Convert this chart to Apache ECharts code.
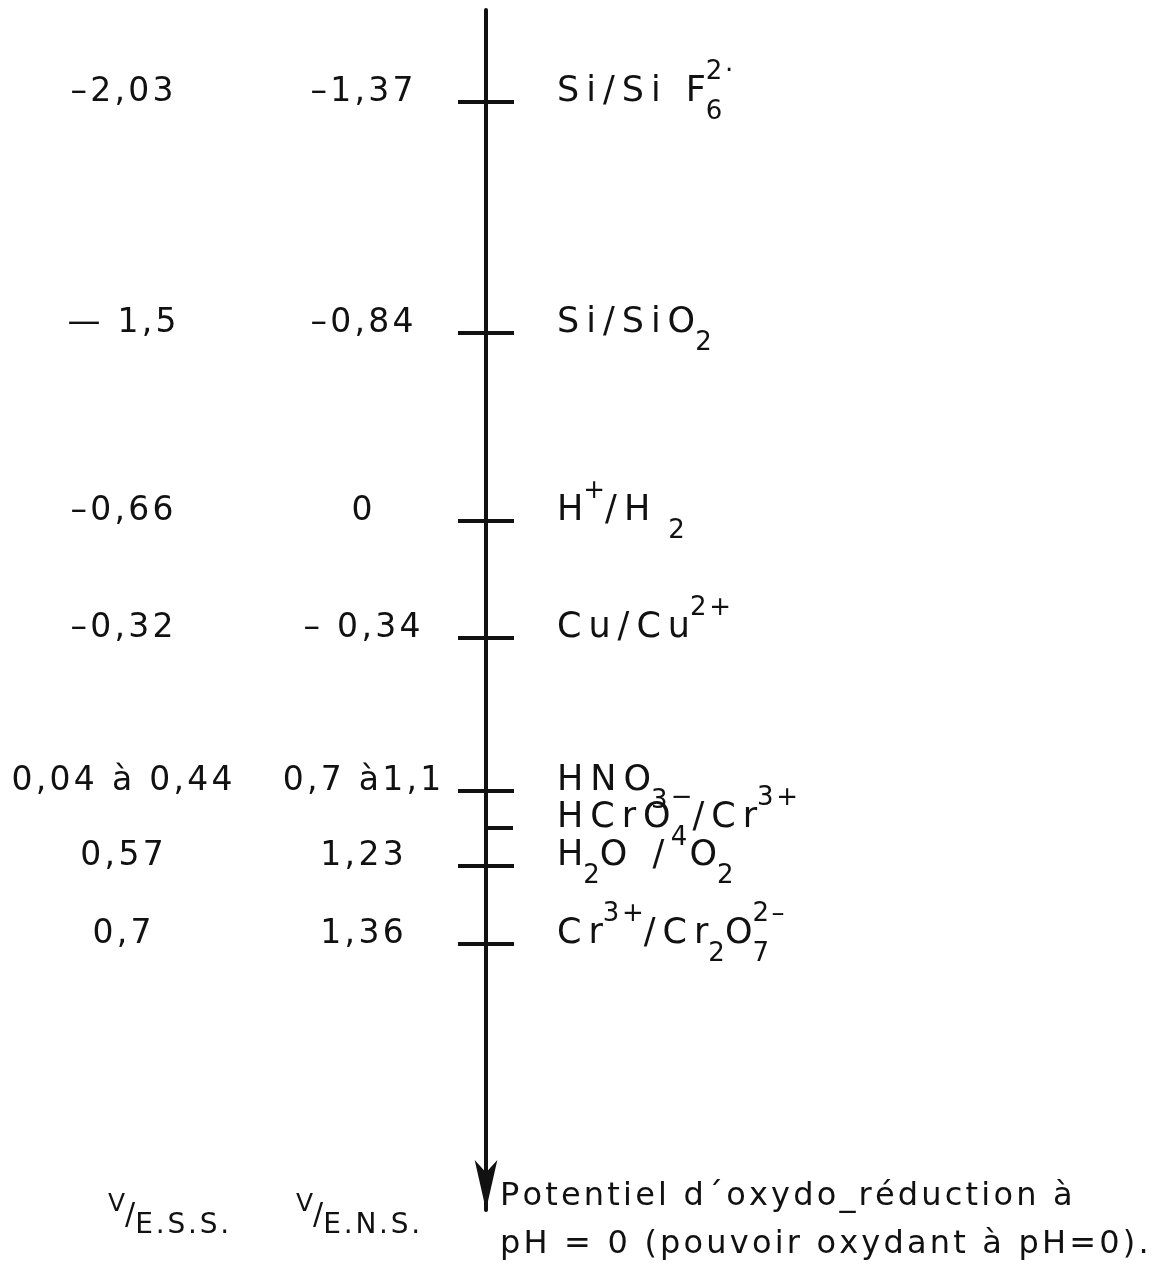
<!DOCTYPE html>
<html>
<head>
<meta charset="utf-8">
<script src="https://cdn.jsdelivr.net/npm/echarts@6.0.0/dist/echarts.min.js"></script>
<style>
  html, body { margin: 0; padding: 0; background: #ffffff; }
  #chart { width: 1169px; height: 1265px; }
</style>
</head>
<body>
<div id="chart"></div>
<script>
// ---- data ----
// Redox couples, from top to bottom along the arrow
const couples = ['Si/SiF6 2-', 'Si/SiO2', 'H+/H2', 'Cu/Cu2+', 'HNO3', 'HCrO4-/Cr3+', 'H2O/O2', 'Cr3+/Cr2O7 2-'];
// rich-text pieces of each couple label: [style, text]
const coupleParts = [
  [['m', 'Si/Si F'], ['sb0', '6'], ['sp', '2·']],
  [['m', 'Si/SiO'], ['sb', '2']],
  [['m', 'H'], ['sp', '+'], ['m', '/H '], ['sb', '2']],
  [['m', 'Cu/Cu'], ['sp', '2+']],
  [['m', 'HNO'], ['sb', '3']],
  [['m', 'HCrO'], ['sb0', '4'], ['sp', '−'], ['m', '/Cr'], ['sp', '3+']],
  [['m', 'H'], ['sb', '2'], ['m', 'O / O'], ['sb', '2']],
  [['m', 'Cr'], ['sp', '3+'], ['m', '/Cr'], ['sb', '2'], ['m', 'O'], ['sb0', '7'], ['sp', '2–']]
];
// potentials in V vs E.S.S. (left column) and vs E.N.S. (middle column), as written
const potentialESS = ['–2,03', '— 1,5', '–0,66', '–0,32', '0,04 à 0,44', null, '0,57', '0,7'];
const potentialENS = ['–1,37', '–0,84', '0', '– 0,34', '0,7 à1,1', null, '1,23', '1,36'];
// position of each couple along the arrow (the figure is not drawn to scale)
const ordinate = [92, 323, 511, 628, 781, 818, 856, 934];
// tick kind: full cross tick or short tick on the right only
const tickKind = ['full', 'full', 'full', 'full', 'full', 'half', 'full', 'full'];

// ---- layout constants ----
const AXIS_X = 486;
const COL_ESS_X = 122;
const COL_ENS_X = 362;
const COUPLE_X = 557;
const INK = '#111111';
const FONT = 'DejaVu Sans';

const spaced = (s, gap) => s.split('').join(gap);
const THIN = '\u2009';
const HAIR = '\u200A';

const richStyles = {
  m:   { fontSize: 35, lineHeight: 66, verticalAlign: 'middle', color: INK, fontFamily: FONT },
  sb:  { fontSize: 26, lineHeight: 26, verticalAlign: 'bottom', color: INK, fontFamily: FONT },
  sb0: { fontSize: 26, lineHeight: 26, verticalAlign: 'bottom', color: INK, fontFamily: FONT, width: 0 },
  sp:  { fontSize: 26, lineHeight: 26, verticalAlign: 'top', color: INK, fontFamily: FONT }
};

const chart = echarts.init(document.getElementById('chart'), null, { renderer: 'canvas' });

function columnSeries(name, values, x) {
  return {
    name: name,
    type: 'scatter',
    silent: true,
    clip: false,
    symbolSize: 0,
    itemStyle: { opacity: 1 },
    data: values.map((v, i) => v == null ? null : { name: v, value: [x, ordinate[i]] }).filter(d => d),
    label: {
      show: true,
      position: 'inside',
      offset: [0, -10],
      color: INK,
      opacity: 1,
      fontFamily: FONT,
      fontSize: 33,
      formatter: p => spaced(p.name, HAIR)
    }
  };
}

const labelRich = (v, e) => ({
  text: '{v|' + v + '}{sl|/}{e|' + spaced(e, HAIR) + '}',
  rich: {
    v: { fontSize: 25, lineHeight: 25, verticalAlign: 'top', fill: INK, fontFamily: FONT },
    sl: { fontSize: 30, lineHeight: 48, verticalAlign: 'middle', fill: INK, fontFamily: FONT },
    e: { fontSize: 28, lineHeight: 28, verticalAlign: 'bottom', fill: INK, fontFamily: FONT }
  }
});

const option = {
  backgroundColor: '#ffffff',
  animation: false,
  grid: { left: 0, right: 0, top: 10, bottom: 55 },
  xAxis: { type: 'value', min: 0, max: 1169, show: false },
  yAxis: {
    type: 'value',
    min: 0,
    max: 1200,
    inverse: true,
    offset: -AXIS_X,
    axisLine: {
      show: true,
      symbol: ['arrow', 'none'],
      symbolSize: [17, 50],
      lineStyle: { color: INK, width: 4 }
    },
    axisTick: { show: false },
    axisLabel: { show: false },
    splitLine: { show: false }
  },
  series: [
    {
      name: 'ticks',
      type: 'scatter',
      silent: true,
      symbol: 'rect',
      itemStyle: { color: INK, opacity: 1 },
      data: ordinate.map((o, i) => ({
        name: couples[i],
        value: [AXIS_X, o],
        symbolSize: tickKind[i] === 'full' ? [56, 4] : [26, 4],
        symbolOffset: tickKind[i] === 'full' ? [0, 0] : [14, 0]
      }))
    },
    columnSeries('V/E.S.S.', potentialESS, COL_ESS_X),
    columnSeries('V/E.N.S.', potentialENS, COL_ENS_X),
    {
      name: 'couples',
      type: 'scatter',
      silent: true,
      clip: false,
      symbolSize: 0,
      itemStyle: { opacity: 1 },
      data: couples.map((c, i) => ({ name: c, value: [COUPLE_X, ordinate[i]] })),
      label: {
        show: true,
        position: 'right',
        distance: 0,
        offset: [0, -10],
        color: INK,
        opacity: 1,
        fontFamily: FONT,
        fontSize: 35,
        formatter: p => coupleParts[p.dataIndex].map(([s, t]) => '{' + s + '|' + spaced(t, s === 'm' ? THIN : HAIR) + '}').join(''),
        rich: richStyles
      }
    }
  ],
  graphic: [
    { type: 'text', left: 108, top: 1192, silent: true, style: labelRich('V', 'E.S.S.') },
    { type: 'text', left: 296, top: 1192, silent: true, style: labelRich('V', 'E.N.S.') },
    {
      type: 'text', left: 500, top: 1173, silent: true,
      style: {
        text: spaced('Potentiel d´oxydo_réduction à', HAIR) + '\n' + spaced('pH = 0 (pouvoir oxydant à pH=0).', HAIR),
        fontSize: 32, lineHeight: 48, fill: INK, fontFamily: FONT
      }
    }
  ]
};

chart.setOption(option);
</script>
</body>
</html>
